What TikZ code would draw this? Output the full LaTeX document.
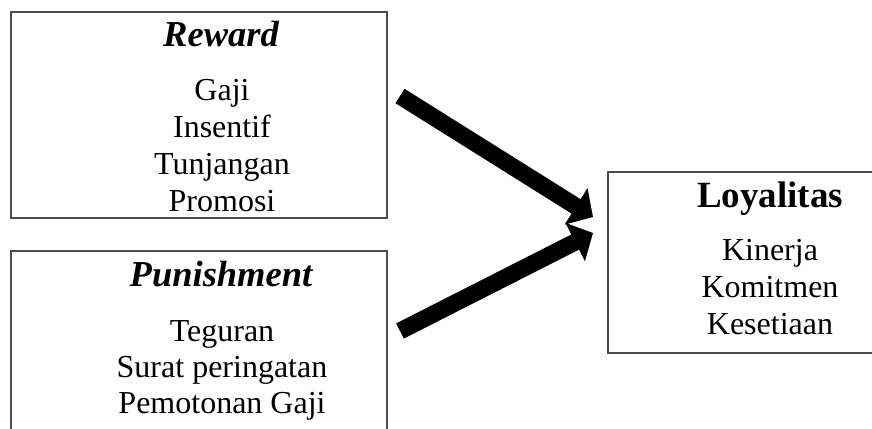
\documentclass[tikz,border=0pt]{standalone}
\usepackage{fontspec}
\setmainfont{Liberation Serif}
\usetikzlibrary{arrows.meta}
\begin{document}
\begin{tikzpicture}[x=1pt,y=-1pt,
  boxline/.style={draw=black!70,line width=1.1pt},
  item/.style={anchor=base,inner sep=0pt,font=\fontsize{32}{37}\selectfont},
  ttl/.style={anchor=base,inner sep=0pt,font=\fontsize{36.5}{40}\selectfont\bfseries\itshape},
  ttlb/.style={anchor=base,inner sep=0pt,font=\fontsize{37}{40}\selectfont\bfseries},
  bigarrow/.style={line width=17pt,line cap=butt,-{Triangle[length=20pt,width=42pt]}}]
\useasboundingbox (0,0) rectangle (872,428);
\clip (0,0) rectangle (872,428);
% boxes
\draw[boxline] (11,12) rectangle (387,218);
\draw[boxline] (11,251) rectangle (387,450);
\draw[boxline] (608,172) rectangle (890,353);
% reward
\node[ttl] (rt) at (221,47) {Reward};
\node[item] (r1) at (222,100) {Gaji};
\node[item] (r2) at (222,137) {Insentif};
\node[item] (r3) at (222,174) {Tunjangan};
\node[item] (r4) at (222,211) {Promosi};
% punishment
\node[ttl] (pt) at (221,286) {Punishment};
\node[item] (p1) at (222,341) {Teguran};
\node[item] (p2) at (222,377) {Surat peringatan};
\node[item] (p3) at (222,413) {Pemotonan Gaji};
% loyalitas
\node[ttlb] (lt) at (770,207) {Loyalitas};
\node[item] (l1) at (770,260) {Kinerja};
\node[item] (l2) at (770,297) {Komitmen};
\node[item] (l3) at (770,334) {Kesetiaan};
% arrows
\coordinate (a1s) at (400,96);
\coordinate (a1e) at (593,217);
\coordinate (a2s) at (400,331);
\coordinate (a2e) at (593,233);
\draw[bigarrow] (a1s) -- (a1e);
\draw[bigarrow] (a2s) -- (a2e);
\end{tikzpicture}
\end{document}
